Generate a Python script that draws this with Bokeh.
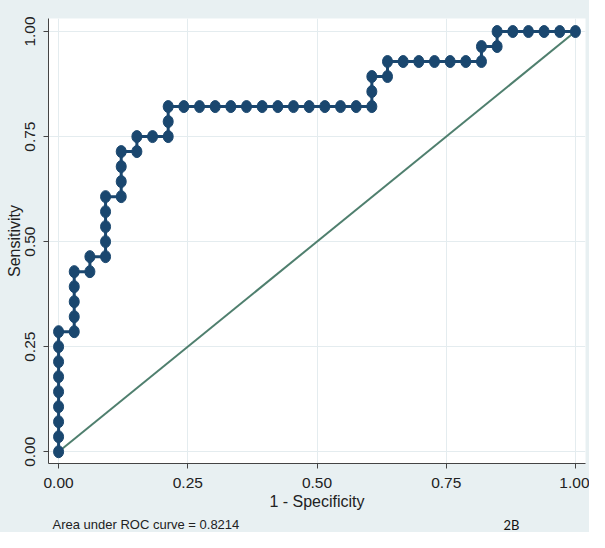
from bokeh.plotting import figure
from bokeh.layouts import column
from bokeh.models import Range1d, FixedTicker, Label
from bokeh.embed import file_html
from bokeh.resources import INLINE

# ROC curve points (1 - specificity, sensitivity)
fpr = [0.0, 0.0, 0.0, 0.0, 0.0, 0.0, 0.0, 0.0, 0.0,
       0.0303, 0.0303, 0.0303, 0.0303, 0.0303,
       0.0606, 0.0606,
       0.0909, 0.0909, 0.0909, 0.0909, 0.0909,
       0.1212, 0.1212, 0.1212, 0.1212,
       0.1515, 0.1515,
       0.1818,
       0.2121, 0.2121, 0.2121,
       0.2424, 0.2727, 0.3030, 0.3333, 0.3636, 0.3939, 0.4242, 0.4545,
       0.4848, 0.5152, 0.5455, 0.5758, 0.6061,
       0.6061, 0.6061,
       0.6364, 0.6364,
       0.6667, 0.6970, 0.7273, 0.7576, 0.7879, 0.8182,
       0.8182,
       0.8485, 0.8485,
       0.8788, 0.9091, 0.9394, 0.9697, 1.0]
tpr = [0.0, 0.0357, 0.0714, 0.1071, 0.1429, 0.1786, 0.2143, 0.25, 0.2857,
       0.2857, 0.3214, 0.3571, 0.3929, 0.4286,
       0.4286, 0.4643,
       0.4643, 0.5, 0.5357, 0.5714, 0.6071,
       0.6071, 0.6429, 0.6786, 0.7143,
       0.7143, 0.75,
       0.75,
       0.75, 0.7857, 0.8214,
       0.8214, 0.8214, 0.8214, 0.8214, 0.8214, 0.8214, 0.8214, 0.8214,
       0.8214, 0.8214, 0.8214, 0.8214, 0.8214,
       0.8571, 0.8929,
       0.8929, 0.9286,
       0.9286, 0.9286, 0.9286, 0.9286, 0.9286, 0.9286,
       0.9643,
       0.9643, 1.0,
       1.0, 1.0, 1.0, 1.0, 1.0]

ref_x = [0.0, 1.0]
ref_y = [0.0, 1.0]

tick_values = [0.0, 0.25, 0.5, 0.75, 1.0]
tick_labels = ["0.00", "0.25", "0.50", "0.75", "1.00"]
auc_text = "Area under ROC curve = 0.8214"
panel_tag = "2B"

NAVY = "#1a476f"
DIAG = "#4f7f6e"
BG = "#e8f0f2"
GRID = "#e4ecef"
FONT = "Liberation Sans"

W = 589
H1 = 516
H2 = 16

p = figure(width=W, height=H1,
           x_range=Range1d(-0.0195, 1.0195), y_range=Range1d(-0.028, 1.031),
           output_backend="svg", toolbar_location=None,
           min_border_left=48, min_border_top=18, min_border_right=4, min_border_bottom=53)

p.background_fill_color = "white"
p.border_fill_color = BG
p.outline_line_color = None

for ax in (p.xaxis[0], p.yaxis[0]):
    ax.ticker = FixedTicker(ticks=tick_values)
    ax.major_label_overrides = {v: l for v, l in zip(tick_values, tick_labels)}
    ax.minor_tick_line_color = None
    ax.major_tick_in = 0
    ax.major_tick_out = 5
    ax.axis_line_color = "#444444"
    ax.major_tick_line_color = "#444444"
    ax.major_label_text_font = FONT
    ax.major_label_text_font_size = "15.5px"
    ax.major_label_text_color = "#222222"
    ax.axis_label_text_font = FONT
    ax.axis_label_text_font_style = "normal"
    ax.axis_label_text_color = "#222222"

p.xaxis.axis_label = "1 - Specificity"
p.xaxis.axis_label_text_font_size = "16px"
p.xaxis.major_label_standoff = 9
p.xaxis.axis_label_standoff = 2

p.yaxis.axis_label = "Sensitivity"
p.yaxis.axis_label_text_font_size = "16px"
p.yaxis.major_label_orientation = "vertical"
p.yaxis.major_label_standoff = 8
p.yaxis.axis_label_standoff = 0

p.xgrid.grid_line_color = GRID
p.ygrid.grid_line_color = GRID
p.xgrid.ticker = FixedTicker(ticks=tick_values)
p.ygrid.ticker = FixedTicker(ticks=tick_values)

p.line(ref_x, ref_y, line_color=DIAG, line_width=2)
p.line(fpr, tpr, line_color=NAVY, line_width=3)
p.ellipse(fpr, tpr, width=10, height=12, width_units="screen", height_units="screen",
          fill_color=NAVY, line_color=NAVY)

# note strip under the chart (its frame is aligned with the chart's frame: x = pixels from frame left)
p2 = figure(width=W, height=H2, x_range=Range1d(0, 537), y_range=Range1d(H2, 0),
            output_backend="svg", toolbar_location=None,
            x_axis_location=None, y_axis_location=None,
            min_border_left=0, min_border_right=0, min_border_top=0, min_border_bottom=0)
p2.grid.visible = False
p2.background_fill_color = BG
p2.border_fill_color = BG
p2.outline_line_color = None
p2.add_layout(Label(x=4, y=8, text=auc_text, text_font=FONT,
                    text_font_size="13px", text_color="#222222", text_baseline="middle"))
p2.add_layout(Label(x=455, y=8, text=panel_tag, text_font="Lato",
                    text_font_size="13px", text_color="#111111", text_baseline="middle"))

layout = column(p, p2, spacing=0, styles={"background-color": BG})
open("out.html", "w").write(file_html(layout, INLINE))
